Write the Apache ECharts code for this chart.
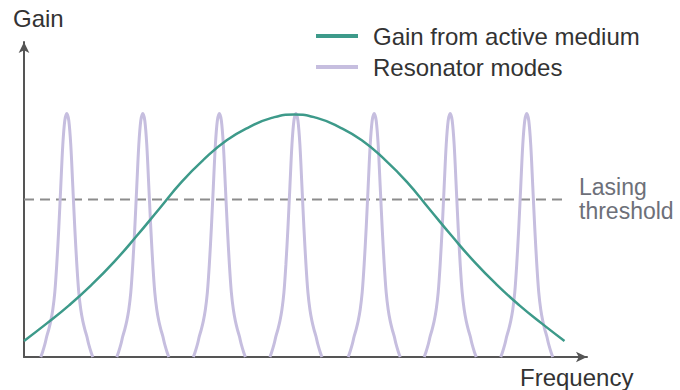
<!DOCTYPE html>
<html><head><meta charset="utf-8">
<script src="https://cdn.jsdelivr.net/npm/echarts@6/dist/echarts.min.js"></script>
<style>html,body{margin:0;padding:0;background:#fff}#c{width:680px;height:390px}</style>
</head><body><div id="c"></div>
<script>
const seriesNames = ['Gain from active medium', 'Resonator modes'];
const gainX = [0, 4, 8, 12, 16, 20, 24, 28, 32, 36, 40, 44, 48, 52, 56, 60, 64, 68, 72, 76, 80, 84, 88, 92, 96];
const gainY = [5.1, 10.6, 16.4, 22.9, 30.2, 38.4, 47.0, 55.6, 62.8, 68.8, 73.0, 75.9, 77.0, 75.9, 73.0, 68.8, 62.8, 55.6, 47.0, 38.4, 30.2, 22.9, 16.4, 10.6, 5.1];
const modeCenters = [7.6, 21.1, 34.7, 48.3, 62.2, 75.7, 89.3];
const modeOffsets = [-4.62, -4.3, -3.9, -3.55, -3.2, -2.85, -2.49, -2.13, -1.78, -1.42, -1.07, -0.71, -0.36, 0, 0.36, 0.71, 1.07, 1.42, 1.78, 2.13, 2.49, 2.85, 3.2, 3.55, 3.9, 4.3, 4.62];
const modeLevels = [0, 1.6, 4.0, 6.6, 8.8, 11.4, 15.0, 20.5, 29.4, 41.0, 54.1, 67.3, 75.0, 77.3, 75.0, 67.3, 54.1, 41.0, 29.4, 20.5, 15.0, 11.4, 8.8, 6.6, 4.0, 1.6, 0];
const thresholdX = [0, 96.4];
const thresholdY = [50, 50];
const axisTitles = ['Gain', 'Frequency'];
const thresholdLabel = ['Lasing', 'threshold'];

const FONT = '"Liberation Sans", Arial, sans-serif';
const gainData = gainX.map((x, i) => [x, gainY[i]]);
const modeSeries = modeCenters.map(c => ({
  name: seriesNames[1], type: 'line', smooth: 0.3, symbol: 'none',
  lineStyle: { color: '#c6bedf', width: 3 }, itemStyle: { color: '#c6bedf' },
  data: modeOffsets.map((o, i) => [c + o, modeLevels[i]]), z: 2
}));

const chart = echarts.init(document.getElementById('c'), null, { renderer: 'svg' });
chart.setOption({
  animation: false,
  backgroundColor: '#fff',
  grid: { left: 24, right: 93, top: 42, bottom: 33, containLabel: false },
  xAxis: {
    type: 'value', min: 0, max: 100,
    axisLine: { show: true, symbol: ['none', 'arrow'], symbolSize: [8, 11], lineStyle: { color: '#555', width: 2 } },
    axisTick: { show: false }, axisLabel: { show: false }, splitLine: { show: false }
  },
  yAxis: {
    type: 'value', min: 0, max: 100,
    axisLine: { show: true, symbol: ['none', 'arrow'], symbolSize: [8, 11], lineStyle: { color: '#555', width: 2 } },
    axisTick: { show: false }, axisLabel: { show: false }, splitLine: { show: false }
  },
  legend: {
    data: seriesNames, orient: 'vertical', left: 316, top: 24, padding: 0,
    icon: 'rect', itemWidth: 42, itemHeight: 4, itemGap: 7,
    textStyle: { fontFamily: FONT, fontSize: 24, color: '#333', padding: [0, 0, 0, 10] }
  },
  series: [
    {
      name: 'threshold', type: 'line', symbol: 'none', silent: true,
      lineStyle: { color: '#8c8c8c', width: 2, type: [10, 6] },
      data: thresholdX.map((x, i) => [x, thresholdY[i]]), z: 1
    },
    ...modeSeries,
    {
      name: seriesNames[0], type: 'line', smooth: true, symbol: 'none',
      lineStyle: { color: '#3d9a8a', width: 2.5 }, itemStyle: { color: '#3d9a8a' },
      data: gainData, z: 3
    }
  ],
  graphic: [
    { type: 'text', left: 13, top: 6, style: { text: axisTitles[0], font: '24px ' + FONT, fill: '#333' } },
    { type: 'text', left: 520, top: 365, style: { text: axisTitles[1], font: '24px ' + FONT, fill: '#333' } },
    { type: 'text', left: 579, top: 175, style: { text: thresholdLabel[0], font: '23px ' + FONT, fill: '#6d7079' } },
    { type: 'text', left: 579, top: 199, style: { text: thresholdLabel[1], font: '23px ' + FONT, fill: '#6d7079' } }
  ]
});
</script></body></html>
